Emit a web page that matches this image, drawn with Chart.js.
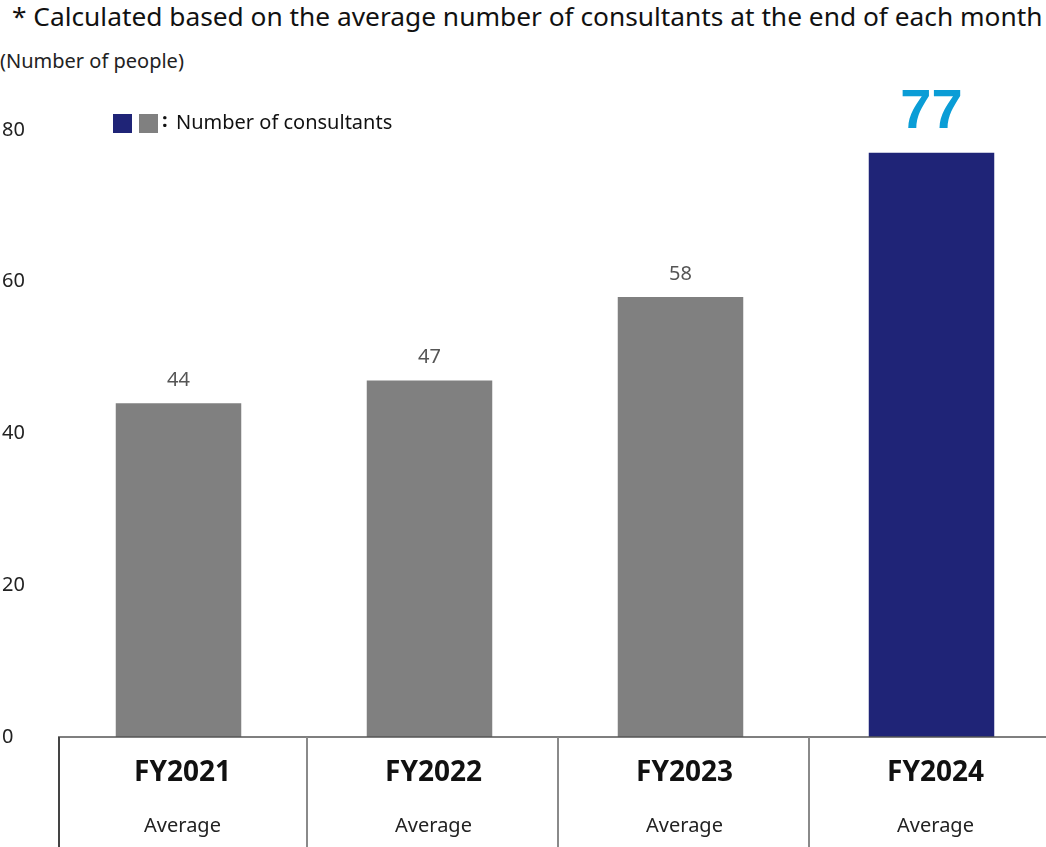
<!DOCTYPE html>
<html lang="en">
<head>
  <meta charset="UTF-8">
  <title>Number of consultants</title>
  <style>
    body {
      margin: 0;
      padding: 0;
      background: #fff;
      overflow: hidden;
      font-family: "Noto Sans", "Open Sans", sans-serif;
    }
    .note {
      position: absolute;
      top: -2px;
      left: 12px;
      font-size: 26.3px;
      color: #111;
      white-space: nowrap;
    }
    .unit {
      position: absolute;
      top: 47px;
      left: 0;
      font-size: 20px;
      color: #222;
    }
    .chart-box {
      position: absolute;
      top: 0;
      left: 0;
      width: 1064px;
      height: 847px;
    }
  </style>
</head>
<body>
  <div class="note">* Calculated based on the average number of consultants at the end of each month</div>
  <div class="unit">(Number of people)</div>
  <div class="chart-box">
    <canvas id="chart"></canvas>
  </div>

  <script src="https://cdn.jsdelivr.net/npm/chart.js"></script>
  <script>
    // dados do gráfico
    const years = ['FY2021', 'FY2022', 'FY2023', 'FY2024'];
    const subLabels = ['Average', 'Average', 'Average', 'Average'];
    const consultants = [44, 47, 58, 77];
    const yTicks = [0, 20, 40, 60, 80];
    const legendText = 'Number of consultants';

    const GREY = '#808080';
    const NAVY = '#1f2477';
    const HILITE = '#0a9dd6';

    // último ano em destaque
    const barColors = consultants.map((v, i) => i === consultants.length - 1 ? NAVY : GREY);

    // plugin para rótulos, tabela de categorias e legenda
    const decorations = {
      id: 'decorations',
      afterDatasetsDraw(chart) {
        const c = chart.ctx;
        const xs = chart.scales.x;
        const meta = chart.getDatasetMeta(0);
        const H = chart.height;

        c.save();

        // valores sobre as barras
        meta.data.forEach((bar, i) => {
          c.textAlign = 'center';
          c.textBaseline = 'alphabetic';
          if (i === consultants.length - 1) {
            c.font = 'bold 56px "Liberation Sans", Arial, sans-serif';
            c.fillStyle = HILITE;
            c.fillText(consultants[i], bar.x, bar.y - 25);
          } else {
            c.font = '20px "Noto Sans", sans-serif';
            c.fillStyle = '#555';
            c.fillText(consultants[i], bar.x, bar.y - 17);
          }
        });

        // linha do eixo x
        const y0 = chart.scales.y.getPixelForValue(0);
        c.strokeStyle = '#555';
        c.lineWidth = 1.5;
        c.beginPath();
        c.moveTo(58, y0);
        c.lineTo(chart.width, y0);
        c.stroke();

        // divisórias da tabela
        const step = xs.getPixelForValue(1) - xs.getPixelForValue(0);
        c.lineWidth = 2;
        c.strokeStyle = '#444';
        c.beginPath();
        c.moveTo(59, y0);
        c.lineTo(59, H);
        c.stroke();
        c.strokeStyle = '#8a8a8a';
        for (let i = 1; i < years.length; i++) {
          const bx = Math.round(xs.getPixelForValue(i) - step / 2) + 3;
          c.beginPath();
          c.moveTo(bx, y0);
          c.lineTo(bx, H);
          c.stroke();
        }

        // rótulos das categorias
        years.forEach((yr, i) => {
          const cx = xs.getPixelForValue(i) + 4;
          c.textAlign = 'center';
          c.textBaseline = 'middle';
          c.fillStyle = '#111';
          c.font = 'bold 28px "Noto Sans", sans-serif';
          c.fillText(yr, cx, y0 + 36);
          c.font = '20px "Noto Sans", sans-serif';
          c.fillStyle = '#222';
          c.fillText(subLabels[i], cx, y0 + 89);
        });

        // legenda
        c.fillStyle = NAVY;
        c.fillRect(113, 114, 19, 19);
        c.fillStyle = GREY;
        c.fillRect(139, 114, 19, 19);
        c.fillStyle = '#111';
        c.textAlign = 'left';
        c.textBaseline = 'middle';
        c.font = 'bold 20px "Noto Sans", sans-serif';
        c.fillText(':', 162, 121);
        c.font = '20px "Noto Sans", sans-serif';
        c.fillText(legendText, 176, 123);

        c.restore();
      }
    };

    new Chart(document.getElementById('chart'), {
      type: 'bar',
      data: {
        labels: years,
        datasets: [{
          data: consultants,
          backgroundColor: barColors,
          borderWidth: 0,
          categoryPercentage: 1,
          barPercentage: 0.5
        }]
      },
      options: {
        responsive: true,
        maintainAspectRatio: false,
        animation: false,
        layout: {
          padding: { top: 130, bottom: 110, left: 2, right: 7 }
        },
        plugins: {
          legend: { display: false },
          tooltip: { enabled: false }
        },
        scales: {
          x: {
            display: false
          },
          y: {
            min: 0,
            max: 80,
            afterFit(scale) { scale.width = 51; },
            afterBuildTicks(scale) {
              scale.ticks = yTicks.map(v => ({ value: v }));
            },
            grid: { display: false },
            border: { display: false },
            ticks: {
              crossAlign: 'far',
              padding: 0,
              color: '#222',
              font: { family: '"Noto Sans", sans-serif', size: 20 }
            }
          }
        }
      },
      plugins: [decorations]
    });
  </script>
</body>
</html>
